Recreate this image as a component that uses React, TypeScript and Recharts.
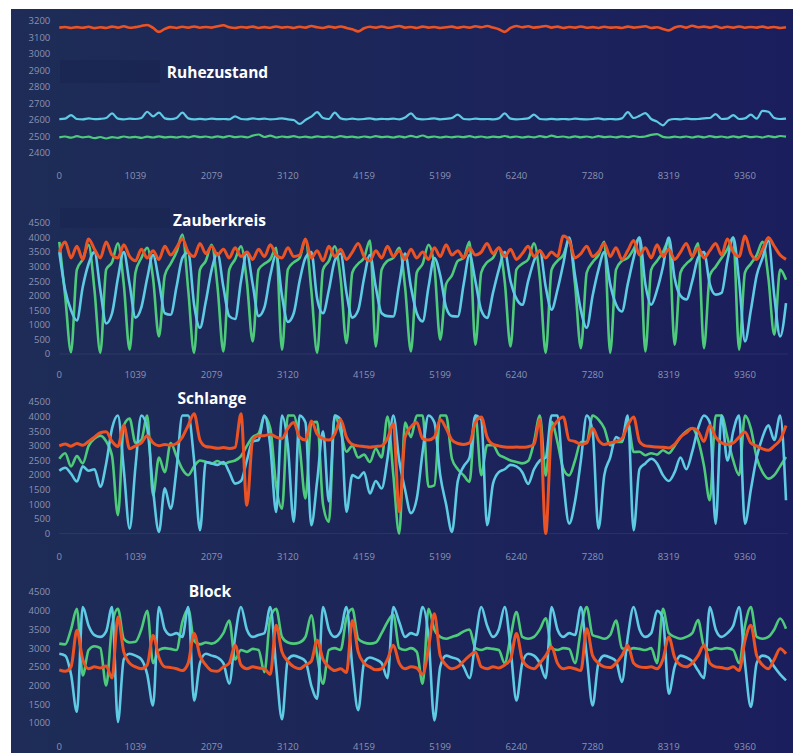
import React from 'react';
import { LineChart, Line, XAxis, YAxis, ReferenceLine } from 'recharts';

// sample spacing on the x axis (index units)
const STEP = 80;
const X_TICKS = [0, 1039, 2079, 3120, 4159, 5199, 6240, 7280, 8319, 9360];
const RUHE_TICKS = [2400, 2500, 2600, 2700, 2800, 2900, 3000, 3100, 3200];
const FULL_TICKS = [0, 500, 1000, 1500, 2000, 2500, 3000, 3500, 4000, 4500];
const BLOCK_TICKS = [1000, 1500, 2000, 2500, 3000, 3500, 4000, 4500];

// Ruhezustand
const ruheOrange = [
  3160, 3164, 3158, 3163, 3159, 3165, 3157, 3162, 3158, 3166,
  3160, 3168, 3159, 3163, 3170, 3176, 3158, 3134, 3152, 3163,
  3158, 3165, 3160, 3167, 3159, 3164, 3160, 3168, 3174, 3162,
  3158, 3164, 3160, 3166, 3158, 3163, 3159, 3167, 3160, 3164,
  3158, 3165, 3160, 3170, 3162, 3158, 3166, 3160, 3167, 3158,
  3150, 3137, 3156, 3165, 3160, 3167, 3159, 3163, 3170, 3160,
  3164, 3158, 3166, 3160, 3164, 3158, 3162, 3166, 3159, 3165,
  3160, 3168, 3162, 3170, 3160, 3150, 3134, 3158, 3170, 3162,
  3168, 3160, 3164, 3170, 3160, 3166, 3158, 3164, 3160, 3167,
  3159, 3163, 3158, 3165, 3160, 3162, 3158, 3166, 3160, 3164,
  3168, 3158, 3162, 3152, 3143, 3160, 3168, 3160, 3171, 3162,
  3166, 3160, 3168, 3158, 3165, 3160, 3167, 3159, 3164, 3160,
  3166, 3159, 3164, 3158, 3162,
];
const ruheCyan = [
  2605, 2608, 2630, 2606, 2604, 2610, 2605, 2607, 2612, 2640,
  2608, 2604, 2608, 2606, 2612, 2650, 2622, 2645, 2610, 2605,
  2612, 2645, 2610, 2604, 2607, 2604, 2608, 2605, 2606, 2604,
  2622, 2606, 2604, 2610, 2605, 2608, 2604, 2606, 2610, 2604,
  2600, 2576, 2600, 2620, 2648, 2612, 2606, 2645, 2610, 2604,
  2608, 2604, 2606, 2610, 2604, 2607, 2605, 2608, 2604, 2615,
  2640, 2608, 2604, 2606, 2610, 2604, 2607, 2612, 2632, 2606,
  2604, 2608, 2605, 2606, 2604, 2610, 2640, 2608, 2604, 2606,
  2610, 2632, 2606, 2604, 2607, 2604, 2606, 2604, 2608, 2605,
  2604, 2606, 2610, 2604, 2606, 2604, 2610, 2648, 2612, 2625,
  2642, 2606, 2590, 2568, 2600, 2606, 2604, 2608, 2605, 2606,
  2610, 2612, 2636, 2606, 2608, 2630, 2606, 2610, 2632, 2608,
  2655, 2650, 2612, 2606, 2608,
];
const ruheGreen = [
  2495, 2500, 2493, 2502, 2495, 2499, 2490, 2497, 2488, 2496,
  2492, 2500, 2494, 2498, 2492, 2499, 2494, 2501, 2495, 2498,
  2494, 2500, 2495, 2502, 2496, 2500, 2494, 2501, 2495, 2503,
  2496, 2500, 2495, 2505, 2512, 2497, 2505, 2494, 2500, 2496,
  2502, 2495, 2499, 2494, 2501, 2496, 2500, 2494, 2502, 2496,
  2499, 2494, 2500, 2495, 2502, 2496, 2499, 2494, 2501, 2495,
  2504, 2496, 2506, 2495, 2500, 2494, 2499, 2495, 2500, 2496,
  2502, 2495, 2500, 2494, 2499, 2496, 2503, 2495, 2500, 2494,
  2499, 2495, 2502, 2496, 2505, 2497, 2500, 2494, 2501, 2495,
  2500, 2494, 2502, 2496, 2499, 2495, 2501, 2496, 2503, 2497,
  2500, 2510, 2514, 2498, 2494, 2499, 2495, 2500, 2494, 2501,
  2495, 2502, 2496, 2500, 2494, 2501, 2495, 2503, 2496, 2500,
  2494, 2502, 2496, 2503, 2499,
];

// Zauberkreis
const kreisOrange = [
  3500, 3850, 3300, 3700, 3250, 3950, 3600, 3300, 3850, 3400,
  3300, 3750, 3350, 3200, 3600, 3300, 3550, 3250, 3700, 3400,
  3650, 3950, 3500, 3350, 3800, 3450, 3700, 3400, 3600, 3300,
  3650, 3350, 3500, 3250, 3600, 3350, 3750, 3400, 3300, 3650,
  3350, 3400, 3950, 3300, 3550, 3200, 3700, 3350, 3600, 3250,
  3500, 3800, 3350, 3200, 3550, 3300, 3700, 3350, 3550, 3250,
  3600, 3300, 3500, 3250, 3650, 3350, 3750, 3400, 3550, 3300,
  3650, 3400, 3500, 3800, 3450, 3650, 3350, 3600, 3250, 3450,
  3700, 3350, 3550, 3300, 3500, 3350, 4050, 3900, 3300, 3450,
  3700, 3350, 3500, 3800, 3350, 3650, 3250, 3550, 3900, 3400,
  3650, 3300, 3750, 3350, 3600, 3250, 3500, 3800, 3350, 3650,
  3300, 3550, 3800, 3400, 3950, 3500, 3350, 4050, 3450, 3250,
  3600, 4000, 3700, 3400, 3250,
];
const kreisCyan = [
  3500, 2200, 1500, 1150, 2300, 3100, 3500, 2200, 1050, 1400,
  2600, 3500, 2400, 1250, 1600, 2600, 3400, 2500, 1400, 1350,
  2300, 3300, 3500, 1700, 900, 1800, 2900, 3450, 2300, 1300,
  1200, 2500, 3450, 2400, 1300, 1600, 2700, 3400, 2000, 1100,
  1400, 2500, 3300, 3500, 1900, 1400, 2200, 3200, 3450, 2100,
  1250, 1500, 2600, 3400, 2300, 1400, 1300, 1290, 2400, 3450,
  2300, 1400, 1120, 2300, 3300, 2700, 1600, 1300, 1290, 2400,
  3400, 2500, 1500, 1240, 2100, 2900, 3500, 2500, 1900, 1690,
  2500, 3200, 3550, 2300, 1520, 2200, 3100, 4000, 2700, 1500,
  900, 2000, 2900, 3500, 2400, 1700, 1460, 2400, 3300, 4000,
  2400, 1690, 2200, 3000, 4000, 2600, 2000, 1870, 2500, 3300,
  3500, 2400, 2040, 2100, 3200, 4000, 2500, 435, 1500, 2700,
  3300, 3900, 2000, 600, 1750,
];
const kreisGreen = [
  3850, 2000, 60, 2900, 3250, 3750, 2200, 40, 2900, 3150,
  3800, 2400, 150, 2800, 3300, 3650, 2600, 600, 2700, 3100,
  3500, 4100, 2200, 40, 2900, 3200, 3750, 2300, 90, 2900,
  3250, 3700, 2500, 430, 2900, 3100, 3250, 3650, 150, 2900,
  3150, 3300, 3930, 2200, 40, 2900, 3200, 3700, 2600, 380,
  2800, 3100, 3300, 3900, 260, 2900, 3200, 3300, 3650, 2300,
  90, 2800, 3100, 3750, 3000, 490, 2400, 2700, 3200, 3300,
  3850, 320, 2800, 3150, 3300, 3650, 2500, 260, 2900, 3100,
  3250, 3800, 2600, 40, 2900, 3200, 3400, 3900, 2400, 200,
  2800, 3150, 3400, 3850, 40, 2900, 3200, 3300, 3600, 4000,
  90, 2900, 3200, 3500, 3900, 320, 2800, 3100, 3300, 3800,
  200, 2700, 3000, 3300, 3600, 4000, 150, 2800, 3100, 3400,
  3850, 2600, 660, 2900, 2550,
];

// Schlange
const schlangeOrange = [
  3000, 3060, 2990, 3080, 3020, 3150, 3300, 3450, 3480, 3150,
  2980, 3700, 2900, 3000, 3100, 3350, 3100, 3000, 3050, 3020,
  3080, 3300, 3700, 4100, 3200, 2980, 2950, 2920, 2940, 2910,
  2950, 4100, 970, 3200, 3350, 3350, 3400, 3300, 3250, 3600,
  3800, 3300, 3200, 3850, 3400, 3250, 3200, 3400, 3900, 3300,
  3050, 3000, 2980, 2950, 2980, 3000, 3250, 3760, 750, 3300,
  3650, 3800, 3250, 3200, 3300, 3900, 3600, 3200, 3080, 3050,
  3100, 3800, 3990, 3300, 3050, 3000, 2960, 2950, 2960, 2950,
  2970, 3050, 3900, 0, 3500, 3850, 3990, 3200, 3150, 3050,
  3100, 3600, 3200, 3050, 3100, 3150, 3250, 3700, 3990, 3150,
  3000, 2980, 2960, 2950, 2930, 3050, 3300, 3450, 3600, 3500,
  3150, 3700, 3300, 3100, 3050, 3100, 3300, 3470, 3100, 3000,
  2900, 2850, 3000, 3200, 3700,
];
const schlangeCyan = [
  2150, 2250, 2050, 1780, 2300, 2150, 2200, 1600, 2400, 3600,
  4040, 2200, 170, 2300, 4040, 3600, 1500, 60, 1550, 850,
  2200, 4040, 4040, 2500, 115, 2450, 2400, 2350, 2450, 2100,
  1710, 1800, 2500, 3150, 3200, 4040, 3000, 740, 4040, 3000,
  400, 4040, 3800, 285, 1800, 3500, 1100, 4040, 3900, 750,
  2000, 1900, 2100, 1370, 1800, 1540, 2560, 4040, 2500, 1500,
  700, 1200, 2800, 4040, 3800, 2000, 1000, 60, 1800, 2300,
  2600, 4040, 3900, 290, 1700, 2100, 2200, 2350, 2300, 2100,
  1700, 2200, 2500, 2600, 4040, 4040, 1800, 340, 1100, 2500,
  4040, 3500, 170, 2000, 2600, 3300, 3200, 4040, 115, 2200,
  2400, 2560, 2400, 2000, 1800, 2100, 2600, 2200, 2800, 3600,
  4040, 3800, 340, 4040, 2500, 3500, 4040, 340, 1500, 2600,
  3300, 3700, 3200, 4040, 1140,
];
const schlangeGreen = [
  2560, 2750, 2300, 2650, 2400, 3000, 3250, 3350, 3150, 2650,
  630, 3700, 3930, 3100, 3200, 4040, 1310, 2600, 2100, 3100,
  2650, 2200, 2000, 2300, 2500, 2450, 2400, 2480, 2380, 2450,
  2500, 2650, 3000, 3300, 3420, 4000, 3600, 1650, 850, 4040,
  4040, 3000, 1200, 3800, 3820, 1000, 400, 4040, 3500, 2800,
  3000, 2600, 2700, 2450, 2900, 2600, 4000, 2000, 0, 3800,
  3300, 4040, 4040, 1600, 1650, 4040, 4040, 2560, 2200, 1990,
  1770, 4040, 2000, 3020, 3020, 2700, 2600, 2500, 2450, 2400,
  2480, 3130, 4040, 1990, 3820, 3130, 2220, 1990, 2500, 3130,
  3130, 4040, 3900, 3600, 3020, 3130, 3130, 3820, 2790, 2800,
  2680, 2750, 2700, 2850, 2750, 3000, 3300, 3500, 3600, 3200,
  2330, 1140, 4040, 4040, 3300, 2500, 2000, 4040, 3600, 2600,
  2100, 1880, 2000, 2300, 2620,
];

// Block
const blockOrange = [
  2420, 2380, 2500, 3475, 2700, 2450, 2500, 2470, 2520, 2200,
  3830, 2900, 2600, 2500, 2450, 2550, 3340, 2750, 2500, 2480,
  2450, 2400, 2600, 3390, 2800, 2550, 2400, 2380, 2500, 2600,
  3075, 2550, 2450, 2500, 2470, 2450, 2300, 3610, 2900, 2650,
  2500, 2450, 2550, 2650, 3210, 2700, 2500, 2400, 2450, 2350,
  3740, 2900, 2600, 2500, 2420, 2450, 2700, 3075, 2600, 2450,
  2500, 2470, 2300, 3000, 3920, 2800, 2550, 2450, 2500, 2650,
  2800, 2900, 2500, 2450, 2500, 2470, 2550, 2700, 3390, 2700,
  2500, 2450, 2600, 2800, 3030, 2600, 2450, 2480, 2450, 2400,
  3520, 2800, 2600, 2500, 2480, 2600, 2800, 3075, 2600, 2500,
  2480, 2500, 2450, 2700, 3300, 2750, 2550, 2500, 2600, 2800,
  3075, 2600, 2500, 2480, 2450, 2500, 2400, 3200, 3610, 2800,
  2550, 2450, 2700, 2985, 2850,
];
const blockCyan = [
  2850, 2800, 2300, 1300, 4100, 3600, 3350, 3300, 3450, 4100,
  1030, 2700, 2850, 2800, 2700, 2300, 1470, 4100, 3500, 3350,
  3400, 3300, 4100, 1600, 2600, 2850, 2800, 2750, 2600, 2050,
  3300, 4100, 3500, 3300, 3350, 3400, 4100, 2500, 1100, 2700,
  2800, 2750, 2650, 2000, 1650, 4100, 3500, 3300, 3450, 4100,
  2500, 1340, 2600, 2750, 2700, 2600, 2200, 4100, 3700, 3300,
  3400, 3350, 4100, 3300, 1070, 2500, 2800, 2750, 2700, 2500,
  2200, 3200, 4100, 3600, 3300, 3500, 4100, 3000, 1600, 2600,
  2850, 2800, 2600, 2200, 4100, 3500, 3300, 3400, 3350, 4100,
  2800, 1470, 2600, 2800, 2750, 2650, 2100, 3300, 4100, 3500,
  3300, 3400, 4000, 3800, 1780, 2500, 2800, 2750, 2650, 2400,
  2200, 4100, 3500, 3300, 3400, 3600, 4100, 2600, 1430, 2600,
  2800, 2750, 2500, 2300, 2140,
];
const blockGreen = [
  3120, 3100, 3500, 4050, 2270, 2950, 3050, 3000, 2000, 3600,
  4050, 3250, 3150, 3170, 3500, 4000, 2600, 2950, 3000, 2980,
  2950, 3700, 4050, 3200, 3100, 3150, 3120, 3200, 3400, 3740,
  2700, 2950, 2900, 2980, 2950, 2360, 3800, 4050, 3300, 3150,
  3120, 3150, 3300, 3880, 2800, 2050, 2950, 3000, 2950, 3800,
  4050, 3250, 3150, 3120, 3150, 3400, 3700, 3900, 3000, 2950,
  3000, 2900, 2050, 4050, 3500, 3300, 3250, 3300, 3350, 3450,
  3500, 3000, 2950, 3000, 2980, 2950, 2600, 3300, 3965, 3300,
  3250, 3300, 3500, 3800, 3000, 2950, 3000, 2980, 2600, 3500,
  4100, 3350, 3300, 3250, 3350, 3740, 3000, 2950, 3000, 2980,
  2950, 3000, 2600, 4050, 3400, 3300, 3250, 3300, 3400, 3750,
  3050, 2950, 3000, 2980, 3000, 2950, 2600, 3600, 4100, 3300,
  3250, 3300, 3500, 3790, 3520,
];

const ORANGE = '#ec5324';
const CYAN = '#5ecae3';
const GREEN = '#4dcb7b';
const TICK = { fill: '#8a93b3', fontSize: 9.5, fontFamily: 'Open Sans' };

type PanelProps = {
  top: number;
  plotHeight: number;
  orange: number[];
  cyan: number[];
  green: number[];
  domain: [number, number];
  ticks: number[];
  xMargin: number;
  thin?: boolean;
  zeroLine?: boolean;
};

// top = y of the plot's upper edge, in the container
function Panel({ top, plotHeight, orange, cyan, green, domain, ticks, xMargin, thin, zeroLine }: PanelProps) {
  const rows = orange.map((v, i) => ({ t: i * STEP, orange: v, cyan: cyan[i], green: green[i] }));
  const h = plotHeight + 10 + 30;
  const w = thin ? 2.2 : 2.6;
  return (
    <div style={{ position: 'absolute', left: 0, top: top - 10, width: 782, height: h }}>
      <LineChart width={782} height={h} data={rows} margin={{ top: 10, right: 4.8, bottom: 0, left: 0 }}>
        <XAxis
          dataKey="t"
          type="number"
          domain={[0, 9950]}
          ticks={X_TICKS}
          interval={0}
          axisLine={false}
          tickLine={false}
          tickSize={0}
          tickMargin={xMargin}
          height={30}
          tick={TICK}
        />
        <YAxis
          type="number"
          domain={domain}
          ticks={ticks}
          interval={0}
          width={48.3}
          axisLine={false}
          tickLine={false}
          tickSize={0}
          tickMargin={9}
          tick={TICK}
        />
        {zeroLine && <ReferenceLine y={domain[0]} stroke="rgba(140,150,190,0.14)" strokeWidth={1} />}
        <Line type="monotone" dataKey="green" stroke={GREEN} strokeWidth={w} dot={false} isAnimationActive={false} />
        <Line type="monotone" dataKey="cyan" stroke={CYAN} strokeWidth={w} dot={false} isAnimationActive={false} />
        <Line type="monotone" dataKey="orange" stroke={ORANGE} strokeWidth={w + 0.4} dot={false} isAnimationActive={false} />
      </LineChart>
    </div>
  );
}

const titleStyle: React.CSSProperties = {
  position: 'absolute',
  width: 200,
  textAlign: 'center',
  color: '#ffffff',
  fontFamily: 'Open Sans',
  fontWeight: 700,
  fontSize: 15.5,
  lineHeight: '20px',
};

export default function App() {
  return (
    <div
      style={{
        position: 'absolute',
        left: 11,
        top: 9,
        width: 782,
        height: 744,
        overflow: 'hidden',
        background: 'linear-gradient(90deg, #1e2c57 0%, #1c2659 45%, #1b1e5d 100%)',
      }}
    >
      <div style={{ position: 'absolute', left: 49, top: 51, width: 100, height: 23, background: 'rgba(12,18,55,0.16)' }} />
      <div style={{ position: 'absolute', left: 49, top: 199, width: 110, height: 20, background: 'rgba(12,18,55,0.14)' }} />
      <Panel top={11.7} plotHeight={132} orange={ruheOrange} cyan={ruheCyan} green={ruheGreen} domain={[2400, 3200]} ticks={RUHE_TICKS} xMargin={18.9} thin />
      <Panel top={214.3} plotHeight={131} orange={kreisOrange} cyan={kreisCyan} green={kreisGreen} domain={[0, 4500]} ticks={FULL_TICKS} xMargin={17.3} zeroLine />
      <Panel top={392.7} plotHeight={131.6} orange={schlangeOrange} cyan={schlangeCyan} green={schlangeGreen} domain={[0, 4500]} ticks={FULL_TICKS} xMargin={20} zeroLine />
      <Panel top={582.7} plotHeight={131} orange={blockOrange} cyan={blockCyan} green={blockGreen} domain={[1000, 4500]} ticks={BLOCK_TICKS} xMargin={20.6} />
      <div style={{ ...titleStyle, left: 106.5, top: 52.7 }}>Ruhezustand</div>
      <div style={{ ...titleStyle, left: 108.5, top: 201 }}>Zauberkreis</div>
      <div style={{ ...titleStyle, left: 101, top: 378.7 }}>Schlange</div>
      <div style={{ ...titleStyle, left: 99, top: 572 }}>Block</div>
    </div>
  );
}
